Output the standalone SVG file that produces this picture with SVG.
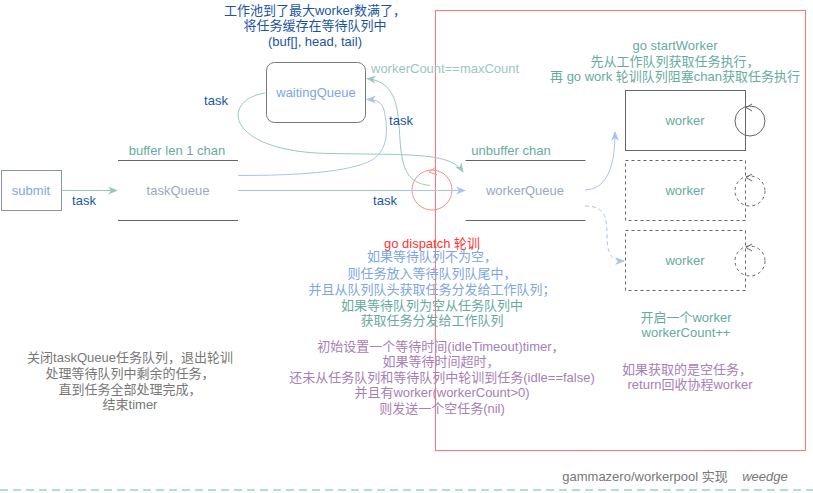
<svg xmlns="http://www.w3.org/2000/svg" width="813" height="493" viewBox="0 0 813 493">
<style>
text{font-family:"Liberation Sans","Noto Sans CJK SC",Arial,sans-serif;font-size:13px;text-anchor:middle}
.dk{fill:#1a56a0}
.gr{fill:#67AB9F}
.lb{fill:#7EA6E0}
.pu{fill:#A680B8}
.gq{fill:#9CA8BE}
.gy{fill:#777}
.q{stroke:#666;stroke-width:1;fill:none}
.cg{stroke:#9AC7BF;stroke-width:1;fill:none}
.cb{stroke:#A9C4EB;stroke-width:1;fill:none}
</style>
<defs>
<marker id="ag" viewBox="0 0 10 8" refX="9" refY="4" markerWidth="10" markerHeight="8" markerUnits="userSpaceOnUse" orient="auto"><path d="M0,0 L10,4 L0,8 L3,4 z" fill="#9AC7BF"/></marker>
<marker id="ab" viewBox="0 0 10 8" refX="9" refY="4" markerWidth="10" markerHeight="8" markerUnits="userSpaceOnUse" orient="auto"><path d="M0,0 L10,4 L0,8 L3,4 z" fill="#A9C4EB"/></marker>
</defs>
<rect width="813" height="493" fill="#fff"/>

<rect x="435.5" y="10.5" width="370" height="440" fill="none" stroke="#FF7575" stroke-width="1"/>

<g id="title">
<text class="dk" x="315" y="14.5">工作池到了最大worker数满了，</text>
<text class="dk" x="315" y="30">将任务缓存在等待队列中</text>
<text class="dk" x="315" y="45.5">(buf[], head, tail)</text>
</g>

<g id="submit">
<rect x="1.5" y="170.5" width="60" height="40" fill="#fff" stroke="#8a93a6"/>
<text class="lb" x="31" y="195">submit</text>
</g>

<g id="taskQueue">
<line class="q" x1="118" y1="160.5" x2="238" y2="160.5"/>
<line class="q" x1="118" y1="220.5" x2="238" y2="220.5"/>
<text class="gr" x="177" y="155">buffer len 1 chan</text>
<text class="gq" x="178" y="195">taskQueue</text>
</g>

<g id="waitingQueue">
<rect x="266.5" y="62.5" width="99" height="60" rx="8" ry="8" fill="#fff" stroke="#777"/>
<text class="lb" x="316" y="97">waitingQueue</text>
</g>

<g id="workerQueue">
<line class="q" x1="465.5" y1="160.5" x2="585.5" y2="160.5"/>
<line class="q" x1="465.5" y1="220.5" x2="585.5" y2="220.5"/>
<text class="gr" x="511" y="155">unbuffer chan</text>
<text class="gq" x="525" y="195">workerQueue</text>
</g>

<g id="dispatch">
<circle cx="432" cy="190" r="20" fill="none" stroke="#FF8A8A"/>
<path d="M436,167 L429,172 L437,175" fill="none" stroke="#FF8A8A"/>
</g>

<g id="worker1">
<rect x="625.5" y="90.5" width="120" height="60" fill="#fff" stroke="#666"/>
<text class="gr" x="685" y="125">worker</text>
<circle cx="750" cy="121" r="15" fill="none" stroke="#666"/>
<path d="M752,104 L746,107.5 L752,111" fill="none" stroke="#666"/>
</g>
<g id="worker2">
<rect x="625.5" y="160.5" width="120" height="60" fill="#fff" stroke="#666" stroke-dasharray="3,3"/>
<text class="gr" x="685" y="195">worker</text>
<circle cx="750" cy="191" r="15" fill="none" stroke="#666" stroke-dasharray="3,3"/>
<path d="M752,174 L746,177.5 L752,181" fill="none" stroke="#666"/>
</g>
<g id="worker3">
<rect x="625.5" y="230.5" width="120" height="60" fill="#fff" stroke="#666" stroke-dasharray="3,3"/>
<text class="gr" x="685" y="265">worker</text>
<circle cx="750" cy="261" r="15" fill="none" stroke="#666" stroke-dasharray="3,3"/>
<path d="M752,244 L746,247.5 L752,251" fill="none" stroke="#666"/>
</g>

<g id="connectors">
<line class="cg" x1="61.5" y1="190.5" x2="117" y2="190.5" marker-end="url(#ag)"/>
<line class="cb" x1="238" y1="190.5" x2="465" y2="190.5" marker-end="url(#ab)"/>
<path class="cb" d="M238,175.5 C300,175.5 350,172 372,160 C392,148 386,120 384,110 C382,102 376,99.5 367,99.5" marker-end="url(#ab)"/>
<path class="cg" d="M430,185.5 C405,183 402,165 400,140 C398,110 398,82 367,78.5" marker-end="url(#ag)"/>
<path class="cg" d="M265,93 C220,100 225,152 330,153.5 C410,155 450,152 463,172" marker-end="url(#ag)"/>
<path class="cb" d="M585,190 C608,189 615,165 615,132" marker-end="url(#ab)"/>
<path class="cb" d="M585,206 C603,206 607,214 607,235 C607,255 612,261 624,261" stroke-dasharray="4,3" marker-end="url(#ab)"/>
<text class="dk" x="84" y="205">task</text>
<text class="dk" x="216" y="105">task</text>
<text class="dk" x="401" y="125">task</text>
<text class="dk" x="385" y="205">task</text>
<text x="371" y="72.5" style="text-anchor:start;fill:#9AC7BF">workerCount==maxCount</text>
</g>

<g id="startWorker-note">
<text class="gr" x="675" y="50">go startWorker</text>
<text class="gr" x="675" y="65.5">先从工作队列获取任务执行，</text>
<text class="gr" x="675" y="81">再 go work 轮训队列阻塞chan获取任务执行</text>
</g>

<g id="dispatch-note">
<text x="432" y="247.5" fill="#FF3333">go dispatch 轮训</text>
<text class="lb" x="432" y="261">如果等待队列不为空，</text>
<text class="lb" x="432" y="277.5">则任务放入等待队列队尾中，</text>
<text class="lb" x="432" y="294">并且从队列队头获取任务分发给工作队列；</text>
<text class="gr" x="432" y="309.5">如果等待队列为空从任务队列中</text>
<text class="gr" x="432" y="325">获取任务分发给工作队列</text>
<text class="pu" x="441" y="350.5">初始设置一个等待时间(idleTimeout)timer，</text>
<text class="pu" x="441" y="366">如果等待时间超时，</text>
<text class="pu" x="442" y="381.5">还未从任务队列和等待队列中轮训到任务(idle==false)</text>
<text class="pu" x="442" y="397">并且有worker(workerCount&gt;0)</text>
<text class="pu" x="442" y="412.5">则发送一个空任务(nil)</text>
</g>

<g id="close-note">
<text class="gy" x="130" y="361.5">关闭taskQueue任务队列，退出轮训</text>
<text class="gy" x="130" y="377.5">处理等待队列中剩余的任务，</text>
<text class="gy" x="130" y="393.5">直到任务全部处理完成，</text>
<text class="gy" x="130" y="409">结束timer</text>
</g>

<g id="worker-note">
<text class="gr" x="686" y="321.5">开启一个worker</text>
<text class="gr" x="686" y="337">workerCount++</text>
<text class="pu" x="687" y="373.5">如果获取的是空任务，</text>
<text class="pu" x="690" y="389">return回收协程worker</text>
</g>

<g id="footer">
<text class="gy" x="645" y="481">gammazero/workerpool 实现</text>
<text class="gy" x="765" y="481" style="font-style:italic">weedge</text>
<line x1="0" y1="490" x2="813" y2="490" stroke="#B5DCD5" stroke-width="2" stroke-dasharray="8,5"/>
</g>
</svg>
